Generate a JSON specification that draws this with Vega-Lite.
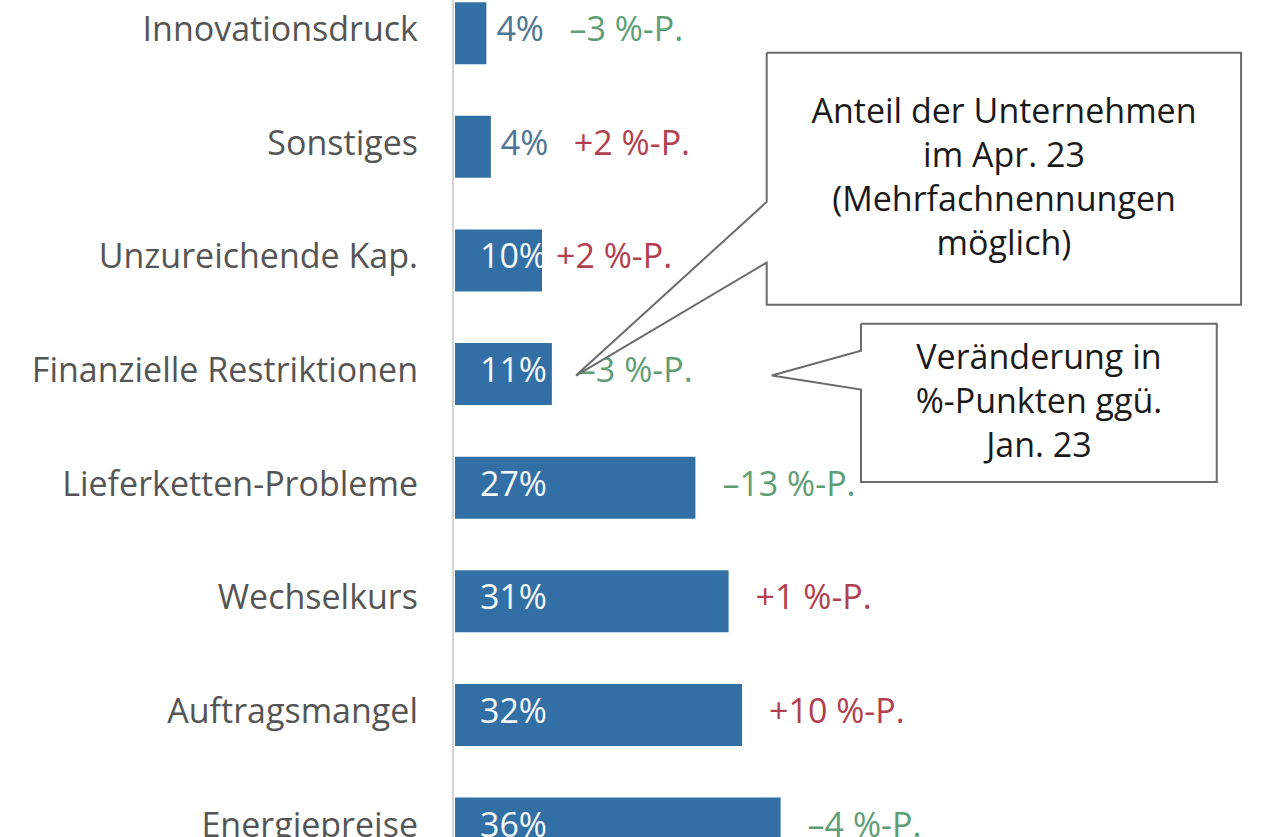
{
  "$schema": "https://vega.github.io/schema/vega-lite/v6.json",
  "width": 1280,
  "height": 837,
  "autosize": {"type": "none"},
  "padding": 0,
  "background": "white",
  "config": {"view": {"stroke": null}, "font": "Open Sans"},
  "datasets": {
    "bars": [
      {"cat": "Innovationsdruck", "row": 0, "share": 3.5, "shareLabel": "4%", "change": -3, "changeLabel": "–3 %-P."},
      {"cat": "Sonstiges", "row": 1, "share": 4.0, "shareLabel": "4%", "change": 2, "changeLabel": "+2 %-P."},
      {"cat": "Unzureichende Kap.", "row": 2, "share": 9.7, "shareLabel": "10%", "change": 2, "changeLabel": "+2 %-P."},
      {"cat": "Finanzielle Restriktionen", "row": 3, "share": 10.8, "shareLabel": "11%", "change": -3, "changeLabel": "–3 %-P."},
      {"cat": "Lieferketten-Probleme", "row": 4, "share": 26.8, "shareLabel": "27%", "change": -13, "changeLabel": "–13 %-P."},
      {"cat": "Wechselkurs", "row": 5, "share": 30.5, "shareLabel": "31%", "change": 1, "changeLabel": "+1 %-P."},
      {"cat": "Auftragsmangel", "row": 6, "share": 32.0, "shareLabel": "32%", "change": 10, "changeLabel": "+10 %-P."},
      {"cat": "Energiepreise", "row": 7, "share": 36.3, "shareLabel": "36%", "change": -4, "changeLabel": "–4 %-P."}
    ],
    "callouts": [
      {"box": "a", "i": 0, "x": 34.75, "y": 0.172},
      {"box": "a", "i": 1, "x": 87.63, "y": 0.172},
      {"box": "a", "i": 2, "x": 87.63, "y": 2.390},
      {"box": "a", "i": 3, "x": 34.75, "y": 2.390},
      {"box": "a", "i": 4, "x": 34.75, "y": 2.019},
      {"box": "a", "i": 5, "x": 13.49, "y": 3.013},
      {"box": "a", "i": 6, "x": 34.75, "y": 1.485},
      {"box": "a", "i": 7, "x": 34.75, "y": 0.172},
      {"box": "b", "i": 0, "x": 45.26, "y": 2.558},
      {"box": "b", "i": 1, "x": 84.92, "y": 2.558},
      {"box": "b", "i": 2, "x": 84.92, "y": 3.950},
      {"box": "b", "i": 3, "x": 45.26, "y": 3.950},
      {"box": "b", "i": 4, "x": 45.26, "y": 3.137},
      {"box": "b", "i": 5, "x": 35.31, "y": 3.013},
      {"box": "b", "i": 6, "x": 45.26, "y": 2.795},
      {"box": "b", "i": 7, "x": 45.26, "y": 2.558}
    ],
    "notes": [
      {"box": "a", "x": 61.2, "y": 0.7174, "text": ["Anteil der Unternehmen", "im Apr. 23", "(Mehrfachnennungen", "möglich)"]},
      {"box": "b", "x": 65.1, "y": 2.883, "text": ["Veränderung in", "%-Punkten ggü.", "Jan. 23"]}
    ]
  },
  "layer": [
    {
      "data": {"name": "bars"},
      "mark": {"type": "bar", "color": "#316fa5", "size": 62, "clip": true},
      "encoding": {
        "x": {"field": "share", "type": "quantitative", "scale": {"domain": [-50.72, 91.97], "nice": false, "zero": false}, "axis": null},
        "x2": {"datum": 0},
        "y": {"field": "row", "type": "quantitative", "scale": {"domain": [-0.2478, 7.0304], "reverse": true, "nice": false, "zero": false}, "axis": null}
      }
    },
    {
      "data": {"name": "bars"},
      "mark": {"type": "rule", "stroke": "#d4d4d4", "strokeWidth": 2},
      "encoding": {
        "x": {"datum": -0.22, "type": "quantitative", "scale": {"domain": [-50.72, 91.97], "nice": false, "zero": false}, "axis": null}
      }
    },
    {
      "data": {"name": "bars"},
      "mark": {"type": "text", "align": "right", "baseline": "middle", "dx": -37, "dy": -2, "fontSize": 34, "color": "#555555"},
      "encoding": {
        "x": {"datum": 0, "type": "quantitative", "scale": {"domain": [-50.72, 91.97], "nice": false, "zero": false}, "axis": null},
        "y": {"field": "row", "type": "quantitative", "scale": {"domain": [-0.2478, 7.0304], "reverse": true, "nice": false, "zero": false}, "axis": null},
        "text": {"field": "cat"}
      }
    },
    {
      "data": {"name": "bars"},
      "transform": [{"filter": "datum.share >= 9"}],
      "mark": {"type": "text", "align": "left", "baseline": "middle", "dx": 25, "dy": -2, "fontSize": 34, "color": "#f4f8fb"},
      "encoding": {
        "x": {"datum": 0, "type": "quantitative", "scale": {"domain": [-50.72, 91.97], "nice": false, "zero": false}, "axis": null},
        "y": {"field": "row", "type": "quantitative", "scale": {"domain": [-0.2478, 7.0304], "reverse": true, "nice": false, "zero": false}, "axis": null},
        "text": {"field": "shareLabel"}
      }
    },
    {
      "data": {"name": "bars"},
      "transform": [{"filter": "datum.share < 9"}],
      "mark": {"type": "text", "align": "left", "baseline": "middle", "dx": 10, "dy": -2, "fontSize": 34, "color": "#4d7594"},
      "encoding": {
        "x": {"field": "share", "type": "quantitative", "scale": {"domain": [-50.72, 91.97], "nice": false, "zero": false}, "axis": null},
        "y": {"field": "row", "type": "quantitative", "scale": {"domain": [-0.2478, 7.0304], "reverse": true, "nice": false, "zero": false}, "axis": null},
        "text": {"field": "shareLabel"}
      }
    },
    {
      "data": {"name": "bars"},
      "transform": [{"filter": "datum.share >= 10.5"}],
      "mark": {"type": "text", "align": "left", "baseline": "middle", "dx": 27, "dy": -2, "fontSize": 34},
      "encoding": {
        "x": {"field": "share", "type": "quantitative", "scale": {"domain": [-50.72, 91.97], "nice": false, "zero": false}, "axis": null},
        "y": {"field": "row", "type": "quantitative", "scale": {"domain": [-0.2478, 7.0304], "reverse": true, "nice": false, "zero": false}, "axis": null},
        "text": {"field": "changeLabel"},
        "color": {"condition": {"test": "datum.change < 0", "value": "#5f9e74"}, "value": "#b0404f"}
      }
    },
    {
      "data": {"name": "bars"},
      "transform": [{"filter": "datum.share >= 9 && datum.share < 10.5"}],
      "mark": {"type": "text", "align": "left", "baseline": "middle", "dx": 14, "dy": -2, "fontSize": 34},
      "encoding": {
        "x": {"field": "share", "type": "quantitative", "scale": {"domain": [-50.72, 91.97], "nice": false, "zero": false}, "axis": null},
        "y": {"field": "row", "type": "quantitative", "scale": {"domain": [-0.2478, 7.0304], "reverse": true, "nice": false, "zero": false}, "axis": null},
        "text": {"field": "changeLabel"},
        "color": {"condition": {"test": "datum.change < 0", "value": "#5f9e74"}, "value": "#b0404f"}
      }
    },
    {
      "data": {"name": "bars"},
      "transform": [{"filter": "datum.share < 9"}],
      "mark": {"type": "text", "align": "left", "baseline": "middle", "dx": 83, "dy": -2, "fontSize": 34},
      "encoding": {
        "x": {"field": "share", "type": "quantitative", "scale": {"domain": [-50.72, 91.97], "nice": false, "zero": false}, "axis": null},
        "y": {"field": "row", "type": "quantitative", "scale": {"domain": [-0.2478, 7.0304], "reverse": true, "nice": false, "zero": false}, "axis": null},
        "text": {"field": "changeLabel"},
        "color": {"condition": {"test": "datum.change < 0", "value": "#5f9e74"}, "value": "#b0404f"}
      }
    },
    {
      "data": {"name": "callouts"},
      "mark": {"type": "line", "stroke": "#6b6b6b", "strokeWidth": 2, "fill": "white", "strokeJoin": "miter"},
      "encoding": {
        "x": {"field": "x", "type": "quantitative", "scale": {"domain": [-50.72, 91.97], "nice": false, "zero": false}, "axis": null},
        "y": {"field": "y", "type": "quantitative", "scale": {"domain": [-0.2478, 7.0304], "reverse": true, "nice": false, "zero": false}, "axis": null},
        "detail": {"field": "box"},
        "order": {"field": "i"}
      }
    },
    {
      "data": {"name": "notes"},
      "mark": {"type": "text", "align": "center", "baseline": "middle", "dy": -2, "fontSize": 34, "lineHeight": 44, "color": "#1a1a1a"},
      "encoding": {
        "x": {"field": "x", "type": "quantitative", "scale": {"domain": [-50.72, 91.97], "nice": false, "zero": false}, "axis": null},
        "y": {"field": "y", "type": "quantitative", "scale": {"domain": [-0.2478, 7.0304], "reverse": true, "nice": false, "zero": false}, "axis": null},
        "text": {"field": "text"}
      }
    }
  ]
}
